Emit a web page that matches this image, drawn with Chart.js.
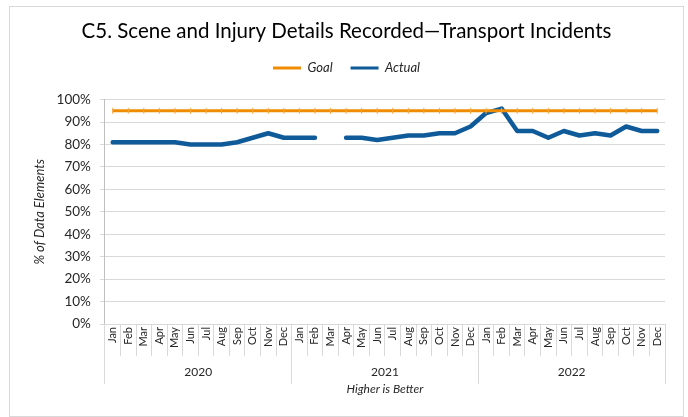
<!DOCTYPE html>
<html lang="en">
<head>
    <meta charset="UTF-8">
    <title>C5. Scene and Injury Details Recorded</title>
    <script src="https://cdn.jsdelivr.net/npm/chart.js"></script>
    <style>
        body { margin: 0; background: #fff; }
        .frame {
            position: absolute;
            left: 9px; top: 6px;
            width: 673px; height: 409px;
            border: 1px solid #d9d9d9;
        }
    </style>
</head>
<body>
    <div class="frame">
        <canvas id="c5Chart"></canvas>
    </div>

    <script>
        // axis labels
        const months = ['Jan','Feb','Mar','Apr','May','Jun','Jul','Aug','Sep','Oct','Nov','Dec'];
        const years = ['2020', '2021', '2022'];

        // series values (%), null = no data for that month
        const goal = [95,95,95,95,95,95,95,95,95,95,95,95,
                      95,95,95,95,95,95,95,95,95,95,95,95,
                      95,95,95,95,95,95,95,95,95,95,95,95];
        const actual2020 = [81, 81, 81, 81, 81, 80, 80, 80, 81, 83, 85, 83];
        const actual2021 = [83, 83, null, 83, 83, 82, 83, 84, 84, 85, 85, 88];
        const actual2022 = [94, 96, 86, 86, 83, 86, 84, 85, 84, 88, 86, 86];

        const labels = years.flatMap(() => months);
        const actual = [...actual2020, ...actual2021, ...actual2022];

        const txt = '#262626';
        const grid = '#d9d9d9';

        // a bit more room between the legend and the plot
        const legendGap = {
            id: 'legendGap',
            beforeInit(chart) {
                const fit = chart.legend.fit;
                chart.legend.fit = function () {
                    fit.apply(this, arguments);
                    this.height += 15;
                };
            }
        };

        new Chart(document.getElementById('c5Chart'), {
            type: 'line',
            data: {
                labels: labels,
                datasets: [
                    { label: 'Goal', data: goal, borderColor: '#f08c00', backgroundColor: '#f08c00',
                      borderWidth: 3, pointStyle: 'line', rotation: 90, pointRadius: 3,
                      pointBorderWidth: 1, pointBorderColor: '#f5a742', xAxisID: 'x' },
                    { label: 'Actual', data: actual, borderColor: '#0f5a98', backgroundColor: '#0f5a98',
                      borderWidth: 4.5, borderJoinStyle: 'round', borderCapStyle: 'round',
                      pointRadius: 0, spanGaps: false, xAxisID: 'x' }
                ]
            },
            options: {
                responsive: true,
                maintainAspectRatio: false,
                animation: false,
                layout: { padding: { left: 18, right: 18, top: 4, bottom: 16 } },
                plugins: {
                    title: {
                        display: true,
                        text: 'C5. Scene and Injury Details Recorded\u2014Transport Incidents',
                        color: '#000',
                        font: { family: 'Lato', size: 20.5, weight: 'normal' },
                        padding: { top: 8, bottom: 0 }
                    },
                    legend: {
                        labels: {
                            color: txt,
                            font: { family: 'Lato', size: 13, style: 'italic' },
                            boxWidth: 28, boxHeight: 3, padding: 18,
                            generateLabels: chart => Chart.defaults.plugins.legend.labels
                                .generateLabels(chart).map(l => ({ ...l, lineWidth: 0 }))
                        }
                    },
                    tooltip: { enabled: false }
                },
                scales: {
                    y: {
                        min: 0, max: 100,
                        ticks: { stepSize: 10, color: txt, padding: 9,
                                 font: { family: 'Lato', size: 13.5 },
                                 callback: v => v + '%' },
                        grid: { color: grid, tickLength: 5 },
                        border: { color: '#bfbfbf' },
                        title: { display: true, text: '% of Data Elements', color: txt,
                                 padding: { top: 4, bottom: 0 },
                                 font: { family: 'Lato', size: 13, style: 'italic' } }
                    },
                    x: {
                        weight: 1,
                        offset: true,
                        ticks: { color: txt, minRotation: 90, maxRotation: 90, autoSkip: false,
                                 padding: -29, font: { family: 'Lato', size: 11 } },
                        grid: { drawOnChartArea: false, offset: true, color: grid, tickLength: 32 },
                        border: { color: grid },
                        afterFit: s => { s.height = 32; }
                    },
                    x2: {
                        type: 'category',
                        labels: years,
                        position: 'bottom',
                        weight: 2,
                        offset: true,
                        ticks: { color: txt, padding: -19, font: { family: 'Lato', size: 12 } },
                        grid: { drawOnChartArea: false, offset: true, color: grid, tickLength: 28 },
                        border: { display: false },
                        title: { display: true, text: 'Higher is Better', color: txt, padding: { top: 0 },
                                 font: { family: 'Lato', size: 12, style: 'italic' } },
                        afterFit: s => { s.height = 44; }
                    }
                }
            },
            plugins: [legendGap]
        });
    </script>
</body>
</html>
